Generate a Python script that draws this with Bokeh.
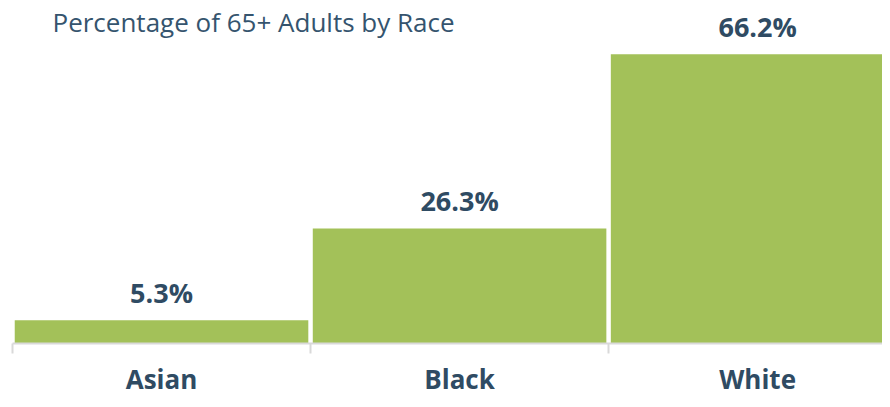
from bokeh.plotting import figure
from bokeh.models import ColumnDataSource, FixedTicker, Label, Range1d
from bokeh.embed import file_html
from bokeh.resources import INLINE
from bokeh.core.properties import value

title_text = "Percentage of 65+ Adults by Race"
categories = ["Asian", "Black", "White"]
percentages = [5.3, 26.3, 66.2]
value_labels = ["5.3%", "26.3%", "66.2%"]

BAR = "#A3C159"
TXT = "#2F4B63"
GRAY = "#D9D9D9"

centers = [i + 0.5 for i in range(len(categories))]
boundaries = list(range(len(categories) + 1))

src = ColumnDataSource(dict(x=centers, top=percentages, label=value_labels))

p = figure(width=882, height=399, output_backend="svg", toolbar_location=None,
           x_range=Range1d(0, 2.919), y_range=Range1d(0, 78.5),
           y_axis_location=None, min_border_left=12, min_border_right=0,
           min_border_top=0, min_border_bottom=0)
p.outline_line_color = None
p.grid.visible = False
p.background_fill_color = "white"
p.border_fill_color = "white"

p.vbar(x="x", top="top", width=0.985, source=src, fill_color=BAR, line_color=None)
p.text(x="x", y="top", text="label", source=src, text_align="center",
       text_baseline="alphabetic", y_offset=-28, text_font=value("Open Sans"),
       text_font_style="bold", text_font_size="27px", text_color=TXT)

ax = p.xaxis[0]
ax.ticker = FixedTicker(ticks=centers, minor_ticks=boundaries)
ax.major_label_overrides = {c: n for c, n in zip(centers, categories)}
ax.major_tick_line_color = None
ax.major_tick_in = 0
ax.major_tick_out = 0
ax.minor_tick_in = 0
ax.minor_tick_out = 10
ax.minor_tick_line_color = GRAY
ax.minor_tick_line_width = 2
ax.axis_line_color = GRAY
ax.axis_line_width = 2
ax.major_label_standoff = 7
ax.major_label_text_font = "Open Sans"
ax.major_label_text_font_style = "bold"
ax.major_label_text_font_size = "26px"
ax.major_label_text_color = TXT

title = Label(x=40, y=322, x_units="screen", y_units="screen", text=title_text,
              text_font="Open Sans", text_font_size="26px", text_color="#35546E",
              text_baseline="alphabetic")
p.add_layout(title)

open("out.html", "w").write(file_html(p, INLINE))
